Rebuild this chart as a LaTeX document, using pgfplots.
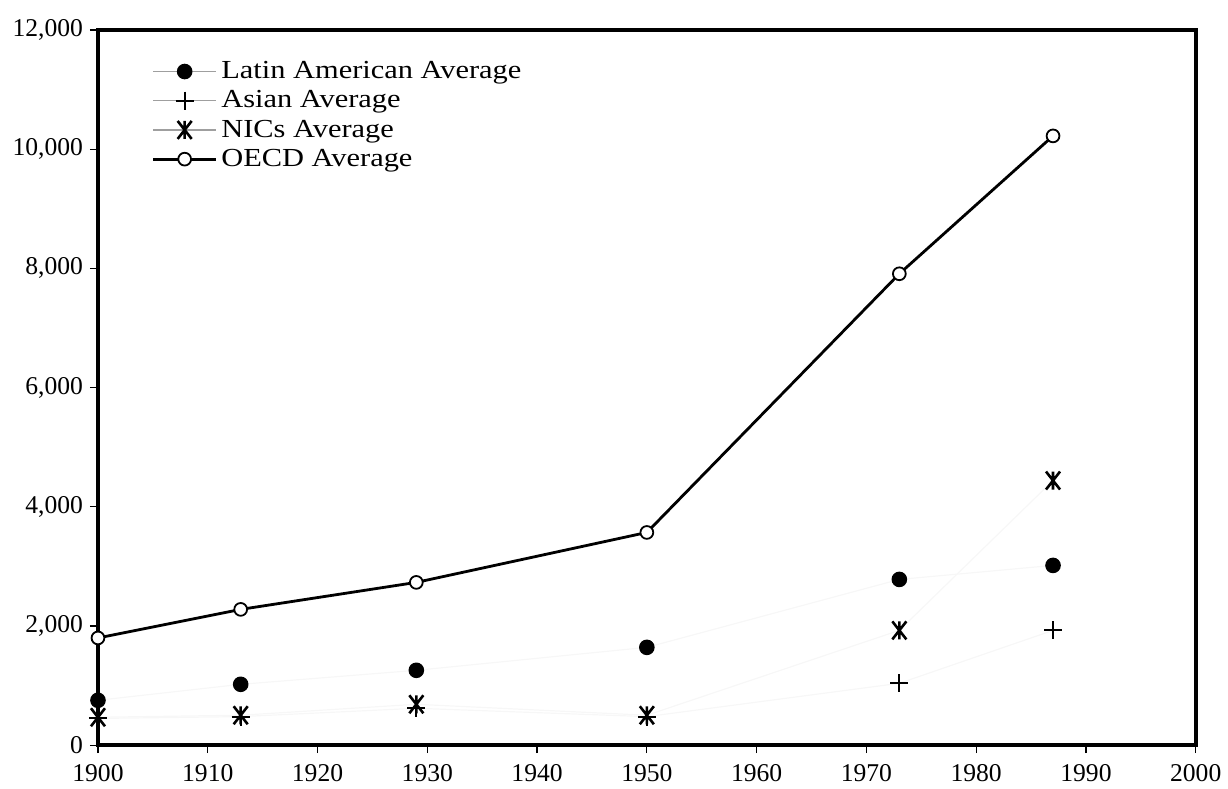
\documentclass[border=0pt]{standalone}
\usepackage{fontspec}
\setmainfont{Liberation Serif}
\newfontfamily\legfont{Liberation Serif}[FakeStretch=1.17]
\usepackage{pgfplots}
\pgfplotsset{compat=1.18}
\pgfdeclareplotmark{xstar}{%
  \pgfpathmoveto{\pgfqpoint{-0.78\pgfplotmarksize}{-\pgfplotmarksize}}%
  \pgfpathlineto{\pgfqpoint{0.78\pgfplotmarksize}{\pgfplotmarksize}}%
  \pgfpathmoveto{\pgfqpoint{-0.78\pgfplotmarksize}{\pgfplotmarksize}}%
  \pgfpathlineto{\pgfqpoint{0.78\pgfplotmarksize}{-\pgfplotmarksize}}%
  \pgfpathmoveto{\pgfqpoint{0pt}{-\pgfplotmarksize}}%
  \pgfpathlineto{\pgfqpoint{0pt}{\pgfplotmarksize}}%
  \pgfusepathqstroke
}
\pgfplotsset{
  graylegend/.style={legend image code/.code={%
    \draw[gray!75,line width=0.6pt] (0cm,0cm) -- (1.1cm,0cm);
    \path[draw=none,mark repeat=2,mark phase=2] plot coordinates {(0cm,0cm) (0.55cm,0cm) (1.1cm,0cm)};}},
}
\begin{document}
\begin{tikzpicture}
\begin{axis}[
  scale only axis,
  width=549pt, height=357.7pt,
  xmin=1900, xmax=2000, ymin=0, ymax=12000,
  xtick={1900,1910,...,2000},
  ytick={0,2000,...,12000},
  /pgf/number format/assume math mode=true,
  xticklabel style={/pgf/number format/1000 sep={}, yshift=-2pt},
  yticklabel style={/pgf/number format/1000 sep={,}},
  scaled y ticks=false,
  tick align=outside,
  tick pos=left,
  major tick length=4pt,
  every tick/.style={black, line width=0.6pt},
  axis line style={line width=1.8pt},
  ticklabel style={font=\fontsize{12.8}{14}\selectfont},
  clip=false,
  legend style={draw=none, fill=none, at={(0.047,0.965)}, anchor=north west,
     font=\legfont\fontsize{13}{14}\selectfont, row sep=0.5pt, inner sep=1pt,
     nodes={inner xsep=2pt}},
  legend cell align=left,
]
\addplot[gray!6, line width=0.6pt, mark=*, mark size=3.6pt, mark options={fill=black, draw=black}, graylegend]
  coordinates {(1900,754) (1913,1022) (1929,1257) (1950,1642) (1973,2782) (1987,3017)};
\addlegendentry{Latin American Average}
\addplot[gray!6, line width=0.6pt, mark=+, mark size=4.5pt, mark options={draw=black, line width=1pt}, graylegend]
  coordinates {(1900,450) (1913,480) (1929,620) (1950,480) (1973,1039) (1987,1927)};
\addlegendentry{Asian Average}
\addplot[gray!6, line width=0.6pt, mark=xstar, mark size=4.5pt, mark options={draw=black, line width=1.3pt}, graylegend]
  coordinates {(1900,469) (1913,503) (1929,687) (1950,503) (1973,1927) (1987,4441)};
\addlegendentry{NICs Average}
\addplot[black, line width=1.4pt, mark=*, mark size=3.2pt, mark options={fill=white, draw=black, line width=0.9pt},
  legend image code/.code={\draw[black,line width=1.4pt] (0cm,0cm) -- (1.1cm,0cm);
    \path[draw=none,mark repeat=2,mark phase=2] plot coordinates {(0cm,0cm) (0.55cm,0cm) (1.1cm,0cm)};}]
  coordinates {(1900,1800) (1913,2279) (1929,2732) (1950,3570) (1973,7910) (1987,10223)};
\addlegendentry{OECD Average}
\end{axis}
\path (-49pt,-20pt) rectangle (564.5pt,372.7pt);
\end{tikzpicture}
\end{document}
